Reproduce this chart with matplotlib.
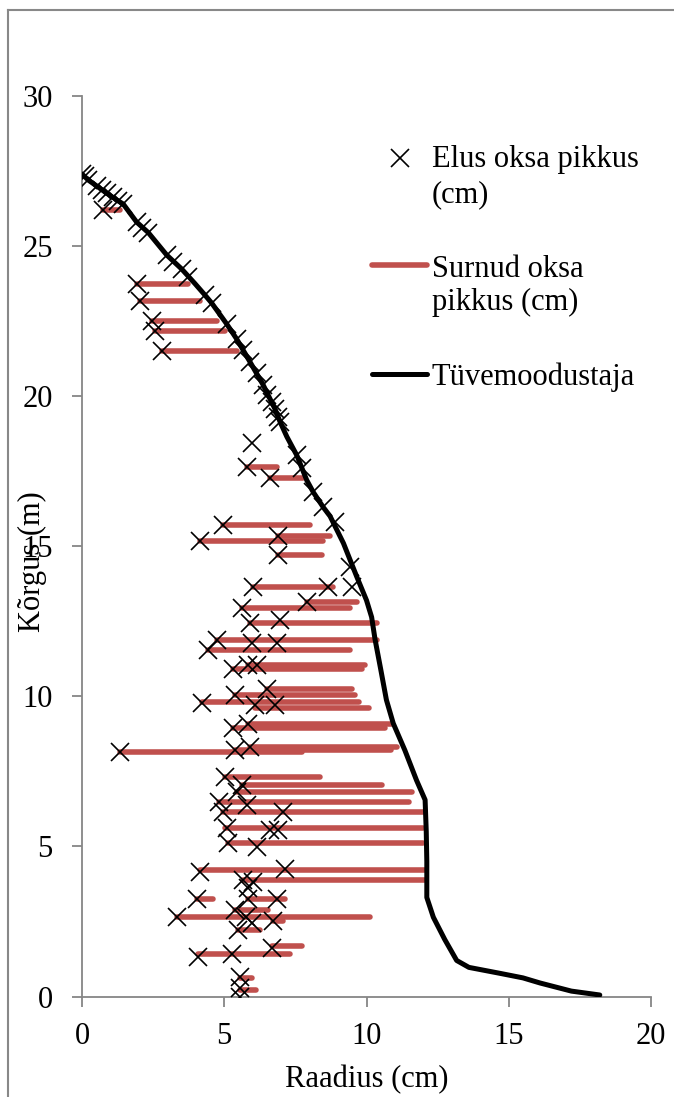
import matplotlib
matplotlib.use('Agg')
import matplotlib.pyplot as plt
from matplotlib.lines import Line2D

plt.rcParams['font.family'] = ['Liberation Serif', 'DejaVu Serif']

# Tüvemoodustaja (stem profile): radius (cm), height (m)
stem_x = [0, 0.22, 0.52, 0.87, 1.28, 1.45, 1.92, 2.33, 2.98, 3.5, 3.97, 4.32, 4.56, 5.09,
          5.44, 5.9, 6.37, 6.78, 6.96, 7.2, 7.55, 7.9, 8.13, 8.48, 8.72, 9.19, 9.66, 10.0,
          10.18, 10.3, 10.5, 10.7, 10.94, 11.35, 11.76, 12.06, 12.1, 12.12, 12.12, 12.35,
          12.75, 13.17, 13.6, 14.7, 15.5, 16.1, 17.2, 18.2]
stem_y = [27.4, 27.2, 27.0, 26.76, 26.5, 26.4, 25.8, 25.45, 24.7, 24.24, 23.75, 23.37, 23.1, 22.4,
          21.9, 21.15, 20.37, 19.58, 19.15, 18.65, 18.03, 17.2, 16.8, 16.3, 16.0, 15.1, 13.98, 13.2,
          12.64, 11.9, 10.9, 9.88, 9.1, 8.2, 7.2, 6.55, 5.5, 4.5, 3.3, 2.64,
          1.9, 1.2, 0.97, 0.77, 0.62, 0.45, 0.18, 0.05]

# Elus oksa pikkus (live branches): x (cm), height (m)
elus_x = [0, 0.1, 0.22, 0.52, 0.69, 0.87, 1.1, 1.28, 1.45, 1.92, 2.1, 2.33, 2.98, 3.2, 3.5, 3.74,
          4.32, 4.56, 5.09, 5.44, 5.67, 5.9, 6.14, 6.37, 6.5, 6.67, 6.78, 6.9, 6.96,
          0.75, 1.92, 2.04, 2.45, 2.57, 2.8,
          5.96, 5.79, 6.61, 7.55, 7.72, 8.13, 8.48, 8.89, 4.97, 4.15, 6.9, 6.9, 9.42,
          6.02, 8.66, 9.48, 5.61, 7.9, 5.9, 6.96, 4.74, 4.44, 5.96, 6.84,
          5.32, 5.85, 6.14, 6.49, 4.21, 5.38, 6.08, 6.79, 5.32, 5.85, 1.34, 5.38, 5.9,
          5.03, 5.61, 5.44, 4.8, 5.79, 4.97, 7.08, 5.1, 6.61, 6.9, 5.14, 6.14,
          4.15, 7.14, 5.67, 6.02, 5.85, 4.03, 5.85, 6.84, 3.33, 5.38, 5.77, 5.96, 5.5, 6.72,
          4.09, 5.26, 6.67, 5.55, 5.55, 5.55]
elus_y = [27.4, 27.35, 27.2, 27.0, 26.87, 26.76, 26.65, 26.5, 26.4, 25.8, 25.6, 25.45, 24.7, 24.46, 24.24, 23.96,
          23.37, 23.1, 22.4, 21.9, 21.55, 21.15, 20.77, 20.37, 20.04, 19.8, 19.58, 19.3, 19.15,
          26.2, 23.74, 23.17, 22.5, 22.17, 21.5,
          18.43, 17.65, 17.26, 18.03, 17.6, 16.8, 16.3, 15.8, 15.72, 15.17, 15.33, 14.7, 14.32,
          13.64, 13.64, 13.64, 12.93, 13.15, 12.43, 12.54, 11.88, 11.55, 11.77, 11.77,
          10.92, 11.04, 11.04, 10.23, 9.78, 10.04, 9.7, 9.7, 8.96, 9.07, 8.14, 8.22, 8.32,
          7.31, 7.03, 6.82, 6.48, 6.37, 6.15, 6.15, 5.6, 5.54, 5.54, 5.13, 4.98,
          4.14, 4.25, 3.87, 3.82, 3.6, 3.26, 3.26, 3.26, 2.64, 2.87, 2.64, 2.44, 2.2, 2.5,
          1.32, 1.43, 1.6, 0.66, 0.27, 0.0]

# Surnud oksa pikkus (dead branches): height (m), start and end (cm)
surnud_y = [26.2, 23.74, 23.17, 22.5, 22.17, 21.5, 17.65, 17.26, 15.72, 15.33, 15.17, 14.7,
            13.64, 13.15, 12.93, 12.45, 11.88, 11.55, 11.04, 10.92, 10.23, 10.04, 9.8, 9.6,
            9.07, 8.96, 8.3, 8.2, 8.14, 7.31, 7.03, 6.82, 6.48, 6.15, 5.6, 5.13, 4.2, 3.87,
            3.26, 3.26, 2.87, 2.64, 2.5, 2.2, 1.67, 1.43, 0.6, 0.2]
surnud_x0 = [0.75, 1.92, 2.04, 2.45, 2.57, 2.8, 5.79, 6.61, 4.97, 6.9, 4.15, 6.9,
             6.02, 7.9, 5.61, 5.9, 4.74, 4.44, 5.85, 5.32, 6.49, 5.38, 4.21, 6.08,
             5.85, 5.32, 5.9, 5.38, 1.34, 5.03, 5.61, 5.44, 4.8, 4.97, 5.03, 5.14, 4.15, 5.67,
             4.03, 5.85, 5.38, 3.33, 6.72, 5.5, 6.67, 4.09, 5.55, 5.55]
surnud_x1 = [1.35, 3.74, 4.15, 4.74, 5.03, 5.44, 6.84, 7.78, 8.01, 8.72, 8.48, 8.43,
             8.84, 9.66, 9.42, 10.36, 10.36, 9.42, 9.95, 9.83, 9.48, 9.6, 9.72, 10.1,
             10.9, 10.65, 11.06, 10.85, 7.72, 8.37, 10.53, 11.59, 11.48, 12.0, 12.0, 12.0, 12.06, 12.06,
             4.62, 7.14, 6.55, 10.12, 7.08, 6.26, 7.72, 7.31, 5.96, 6.1]

W, H = 674, 1097
fig = plt.figure(figsize=(W / 100, H / 100), dpi=100)
ax = fig.add_axes([82 / W, (H - 996.5) / H, (651 - 82) / W, 900.5 / H])

gray = '#868686'
red = '#C0504D'

ax.hlines(surnud_y, surnud_x0, surnud_x1, colors=red, linewidth=4, capstyle='round', zorder=2)
ax.plot(stem_x, stem_y, color='black', linewidth=3.6, solid_capstyle='round', zorder=3)
ax.plot(elus_x, elus_y, linestyle='none', marker='x', markersize=12.5, markeredgewidth=1.2,
        color='black', zorder=4)

ax.set_xlim(0, 20)
ax.set_ylim(0, 30)
ax.set_xticks(range(0, 21, 5))
ax.set_yticks(range(0, 31, 5))
for s in ['top', 'right']:
    ax.spines[s].set_visible(False)
for s in ['left', 'bottom']:
    ax.spines[s].set_color(gray)
    ax.spines[s].set_linewidth(1.3)
ax.tick_params(axis='both', colors=gray, width=1.3, length=7, labelsize=22, labelcolor='black')
ax.tick_params(axis='y', pad=14)
ax.tick_params(axis='x', pad=11)

ax.set_xlabel('Raadius (cm)', fontsize=22)
ax.xaxis.set_label_coords(0.5, (996.5 - 1087) / 900.5)
ax.xaxis.label.set_va('baseline')
ax.set_ylabel('Kõrgus (m)', fontsize=22)
ax.yaxis.set_label_coords((32 - 82) / 569, (996.5 - 562) / 900.5)
ax.yaxis.label.set_va('center')

# legend drawn by hand to mimic the Excel layout
def fx(px):
    return px / W

def fy(py):
    return 1 - py / H

fig.add_artist(Line2D([fx(400)], [fy(158)], marker='x', markersize=12.5, markeredgewidth=1.2,
                      color='black', linestyle='none'))
fig.add_artist(Line2D([fx(372), fx(427)], [fy(265), fy(265)], color=red, linewidth=4,
                      solid_capstyle='round'))
fig.add_artist(Line2D([fx(372), fx(427)], [fy(374), fy(374)], color='black', linewidth=3.6,
                      solid_capstyle='round'))
legend_lines = [('Elus oksa pikkus', 166.7), ('(cm)', 202), ('Surnud oksa', 276.7),
                ('pikkus (cm)', 310), ('Tüvemoodustaja', 385)]
for txt, base in legend_lines:
    fig.text(fx(432), fy(base), txt, fontsize=22, va='baseline', ha='left')

# outer chart frame
fig.add_artist(Line2D([fx(8), fx(8)], [fy(10), 0], color='#888888', linewidth=1.5))
fig.add_artist(Line2D([fx(8), 1], [fy(10), fy(10)], color='#888888', linewidth=1.5))

fig.savefig('out.png', dpi=100)
